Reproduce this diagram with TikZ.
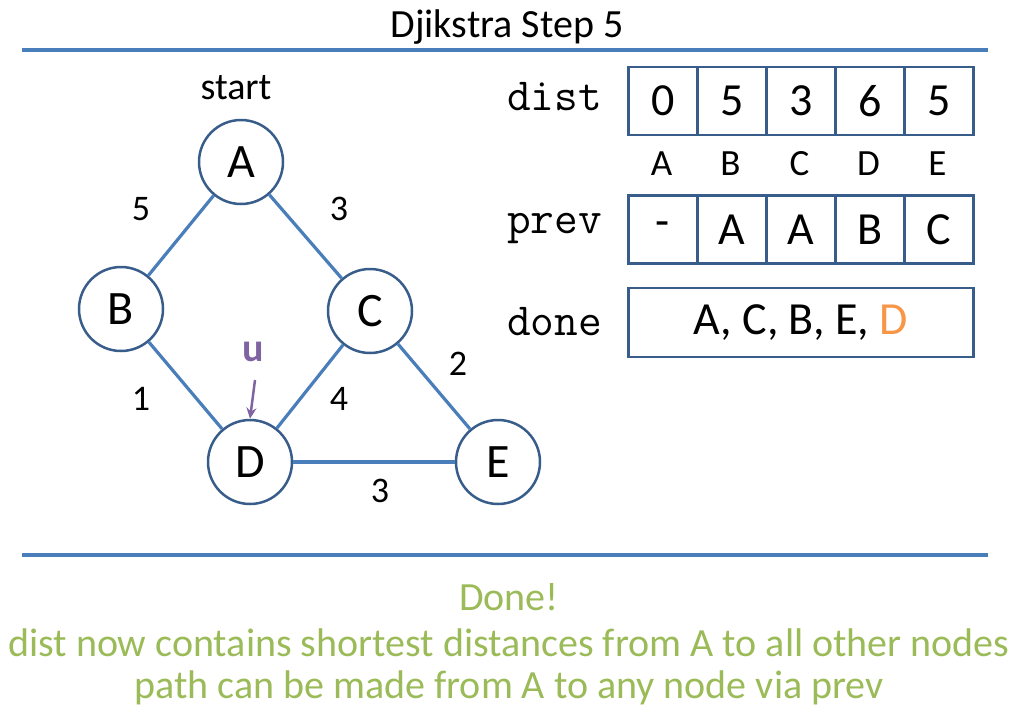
\documentclass[tikz,border=0pt]{standalone}
\usepackage{fontspec}
\setmainfont{Carlito}
\usetikzlibrary{arrows.meta}
\definecolor{sepblue}{HTML}{4A7EBB}
\definecolor{edgeblue}{HTML}{4A7EBB}
\definecolor{ringblue}{HTML}{385D8A}
\definecolor{tgreen}{HTML}{9BBB59}
\definecolor{upurple}{HTML}{8064A2}
\definecolor{dorange}{HTML}{F79646}
\newcommand{\fs}[1]{\fontsize{#1pt}{#1pt}\selectfont}
\tikzset{
  vnode/.style={circle,draw=ringblue,line width=2.5pt,fill=white,minimum size=84pt,inner sep=0pt,font=\fs{48}},
  edge/.style={draw=edgeblue,line width=3.2pt},
  wlabel/.style={font=\fs{36},inner sep=0pt},
  sep/.style={draw=sepblue,line width=3.5pt},
  cell/.style={draw=ringblue,line width=2.5pt,minimum width=69pt,minimum height=68pt,inner sep=0pt,anchor=west},
  monolabel/.style={font=\ttfamily\fs{46},inner sep=0pt,anchor=west},
  green/.style={text=tgreen,font=\fs{40},inner sep=0pt}
}
\begin{document}
\begin{tikzpicture}[x=1pt,y=-1pt]
\useasboundingbox (0,0) rectangle (1018,724);
% title
\node[font=\fs{40},inner sep=0pt] (title) at (507,27) {Djikstra Step 5};
\coordinate (s1a) at (22,50); \coordinate (s1b) at (988,50);
\draw[sep] (s1a) -- (s1b);
\coordinate (s2a) at (22,555); \coordinate (s2b) at (988,555);
\draw[sep] (s2a) -- (s2b);
% graph
\node[vnode] (A) at (241,162) {A};
\node[vnode] (B) at (121,309) {B};
\node[vnode] (C) at (370,311) {C};
\node[vnode] (D) at (250,462) {D};
\node[vnode] (E) at (498,462) {E};
\draw[edge] (A) -- (B);
\draw[edge] (A) -- (C);
\draw[edge] (B) -- (D);
\draw[edge] (C) -- (D);
\draw[edge] (C) -- (E);
\draw[edge] (D) -- (E);
\node[wlabel,font=\fs{38}] (start) at (236,88) {start};
\node[wlabel] (w1) at (141,209) {5};
\node[wlabel] (w2) at (339,209) {3};
\node[wlabel] (w3) at (141,399) {1};
\node[wlabel] (w4) at (339,399) {4};
\node[wlabel] (w5) at (458,364) {2};
\node[wlabel] (w6) at (380,491) {3};
% u marker
\node[font=\bfseries\fs{40},text=upurple,inner sep=0pt] (u) at (253,352) {u};
\coordinate (uarr) at (255,380);
\draw[draw=upurple,line width=2.5pt,-{Stealth[length=11pt,width=10pt]}] (uarr) -- (D.north);
% tables
\node[monolabel] (ldist) at (507,97) {dist};
\node[monolabel] (lprev) at (507,228) {prev};
\node[monolabel] (ldone) at (507,322) {done};
\foreach \v [count=\i] in {0,5,3,6,5}{
  \node[cell,font=\fs{46}] (d\i) at ({627+(\i-1)*69},101) {\v};
}
\foreach \v [count=\i] in {-,A,A,B,C}{
  \node[cell,font=\fs{46}] (p\i) at ({627+(\i-1)*69},229.5) {\v};
}
\foreach \v [count=\i] in {A,B,C,D,E}{
  \node[font=\fs{37},inner sep=0pt] (h\i) at ({661.5+(\i-1)*69},164) {\v};
}
\node[draw=ringblue,line width=2.5pt,minimum width=345pt,minimum height=69pt,inner sep=0pt,anchor=west,font=\fs{46}] (done) at (627,322.5) {A, C, B, E, \textcolor{dorange}{D}};
% bottom text
\node[green] (t1) at (509,597) {Done!};
\node[green] (t2) at (509,643) {dist now contains shortest distances from A to all other nodes};
\node[green] (t3) at (509,688) {path can be made from A to any node via prev};
\end{tikzpicture}
\end{document}
